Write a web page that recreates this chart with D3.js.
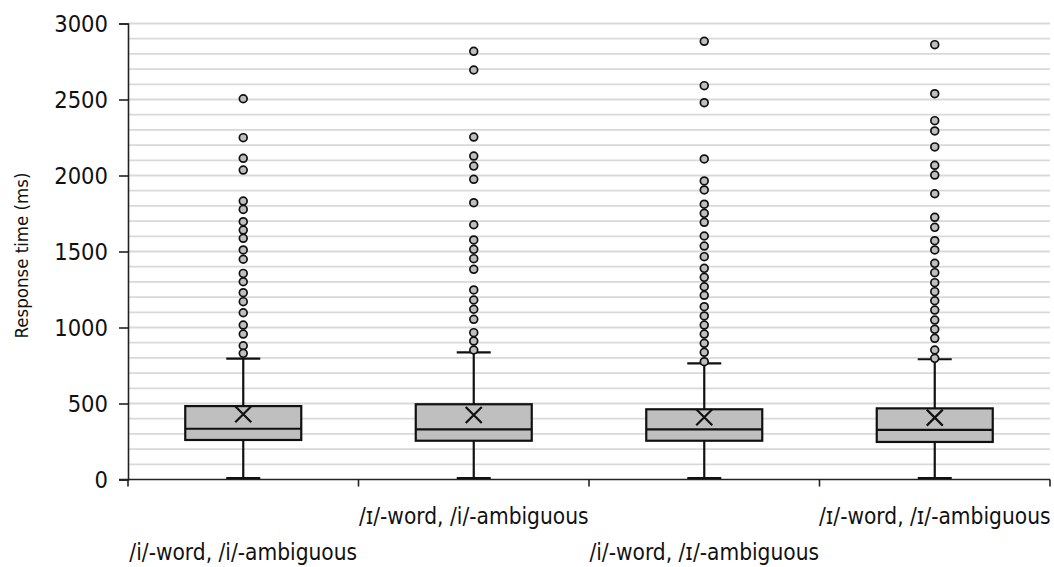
<!DOCTYPE html>
<html>
<head>
<meta charset="utf-8">
<script src="https://cdn.jsdelivr.net/npm/d3@7"></script>
<style>
  html, body { margin: 0; padding: 0; background: #fff; }
  svg { display: block; }
  .lbl { font-family: "DejaVu Sans Condensed", "DejaVu Sans", sans-serif; font-stretch: condensed; fill: #111; }
</style>
</head>
<body>
<svg id="chart" width="1054" height="567"></svg>
<script>
// Response-time distributions per condition
const categories = [
  "/i/-word, /i/-ambiguous",
  "/ɪ/-word, /i/-ambiguous",
  "/i/-word, /ɪ/-ambiguous",
  "/ɪ/-word, /ɪ/-ambiguous"
];
const whiskerLow  = [10, 10, 10, 10];
const q1          = [260, 255, 255, 247];
const median      = [334, 330, 330, 326];
const q3          = [483, 495, 462, 468];
const mean        = [429, 424, 409, 407];
const whiskerHigh = [795, 837, 764, 791];
const outliers = [
  [2505, 2249, 2113, 2036, 1832, 1777, 1696, 1641, 1587, 1510, 1449, 1356, 1301, 1229, 1170, 1097, 1016, 957, 880, 830],
  [2817, 2694, 2253, 2128, 2062, 1975, 1821, 1676, 1576, 1514, 1453, 1383, 1247, 1181, 1120, 1054, 966, 911, 852],
  [2883, 2591, 2479, 2109, 1964, 1905, 1811, 1751, 1692, 1602, 1536, 1466, 1389, 1330, 1268, 1212, 1137, 1076, 1016, 957, 896, 837, 775],
  [2861, 2538, 2361, 2293, 2188, 2067, 2003, 1880, 1725, 1659, 1571, 1510, 1422, 1361, 1295, 1236, 1176, 1115, 1049, 988, 929, 852, 797]
];
const yTicks = [0, 500, 1000, 1500, 2000, 2500, 3000];
const yTitle = "Response time (ms)";

const svg = d3.select("#chart");
const m = { left: 128, right: 1050, top: 23.5, bottom: 479.5 };

const x = d3.scaleBand().domain(categories).range([m.left, m.right]).padding(0);
const y = d3.scaleLinear().domain([0, 3000]).range([m.bottom, m.top]);

// light horizontal gridlines every 100 ms
svg.append("g")
  .selectAll("line")
  .data(d3.range(100, 3001, 100))
  .join("line")
  .attr("x1", m.left).attr("x2", m.right)
  .attr("y1", d => y(d)).attr("y2", d => y(d))
  .attr("stroke", "#d9d9d9").attr("stroke-width", 1.8);

// y axis
const yAxis = svg.append("g")
  .attr("transform", `translate(${m.left},0)`)
  .call(d3.axisLeft(y).tickValues(yTicks).tickSize(9).tickPadding(11).tickFormat(d3.format("d")));
yAxis.select(".domain").attr("stroke", "#222").attr("stroke-width", 1.6);
yAxis.selectAll(".tick line").attr("stroke", "#222").attr("stroke-width", 1.6);
yAxis.selectAll(".tick text").attr("class", "lbl").attr("font-size", 23.5).attr("dy", "0.34em");

// x axis with boundary ticks between categories
const bounds = categories.map(c => x(c)).concat([m.right]);
const xg = svg.append("g");
xg.append("line")
  .attr("x1", m.left - 9).attr("x2", m.right)
  .attr("y1", m.bottom).attr("y2", m.bottom)
  .attr("stroke", "#222").attr("stroke-width", 1.6);
xg.selectAll("line.b").data(bounds).join("line").attr("class", "b")
  .attr("x1", d => d).attr("x2", d => d)
  .attr("y1", m.bottom).attr("y2", m.bottom + 7)
  .attr("stroke", "#222").attr("stroke-width", 1.6);

// staggered category labels
xg.selectAll("text").data(categories).join("text")
  .attr("class", "lbl")
  .attr("x", d => x(d) + x.bandwidth() / 2)
  .attr("y", (d, i) => i % 2 === 0 ? 560 : 524)
  .attr("text-anchor", "middle")
  .attr("font-size", 22.5)
  .text(d => d);

// y axis title
svg.append("text")
  .attr("class", "lbl")
  .attr("transform", `translate(28,${(m.top + m.bottom) / 2 + 4}) rotate(-90)`)
  .attr("text-anchor", "middle")
  .attr("font-size", 18.5)
  .text(yTitle);

// boxes
const halfBox = 58, halfCap = 17, xs = 8;
const g = svg.append("g");
categories.forEach((c, i) => {
  const cx = x(c) + x.bandwidth() / 2;
  const bg = g.append("g").attr("stroke", "#111").attr("stroke-width", 2.2);
  bg.append("line").attr("x1", cx).attr("x2", cx)
    .attr("y1", y(whiskerLow[i])).attr("y2", y(q1[i]));
  bg.append("line").attr("x1", cx).attr("x2", cx)
    .attr("y1", y(q3[i])).attr("y2", y(whiskerHigh[i]));
  [whiskerLow[i], whiskerHigh[i]].forEach(v => {
    bg.append("line").attr("x1", cx - halfCap).attr("x2", cx + halfCap)
      .attr("y1", y(v)).attr("y2", y(v));
  });
  bg.append("rect")
    .attr("x", cx - halfBox).attr("width", halfBox * 2)
    .attr("y", y(q3[i])).attr("height", y(q1[i]) - y(q3[i]))
    .attr("fill", "#bfbfbf");
  bg.append("line").attr("x1", cx - halfBox).attr("x2", cx + halfBox)
    .attr("y1", y(median[i])).attr("y2", y(median[i]));
  const my = y(mean[i]);
  bg.append("path")
    .attr("d", `M${cx - xs},${my - xs}L${cx + xs},${my + xs}M${cx - xs},${my + xs}L${cx + xs},${my - xs}`)
    .attr("fill", "none");
  bg.selectAll("circle").data(outliers[i]).join("circle")
    .attr("cx", cx).attr("cy", d => y(d)).attr("r", 3.9)
    .attr("fill", "#bfbfbf").attr("stroke-width", 1.7);
});
</script>
</body>
</html>
